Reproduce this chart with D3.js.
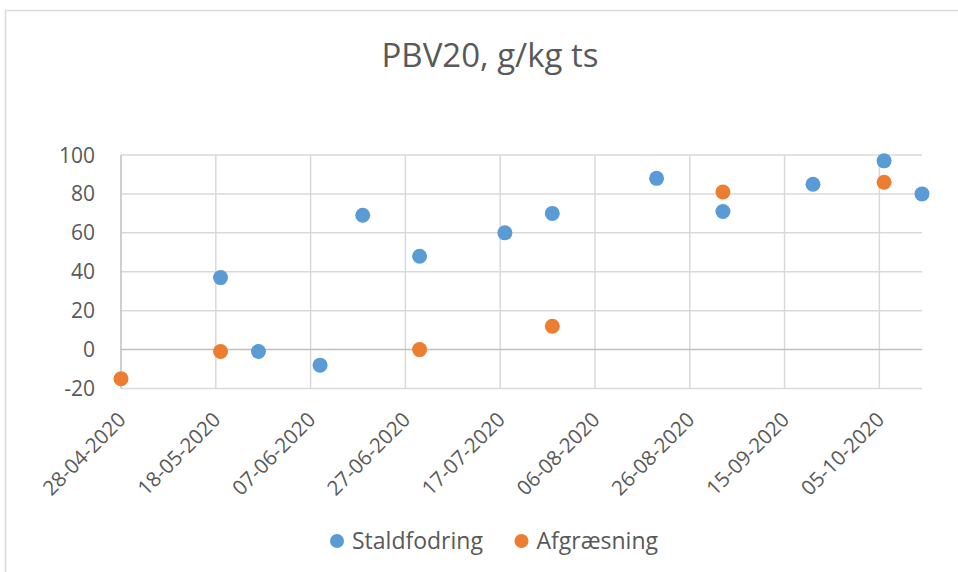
<!DOCTYPE html>
<html><head><meta charset="utf-8">
<script src="https://cdn.jsdelivr.net/npm/d3@7"></script>
<style>
body{margin:0;background:#fff;}
text{font-family:"Open Sans",sans-serif;fill:#595959;}
</style></head>
<body><svg id="c" width="958" height="572"></svg>
<script>
const title = "PBV20, g/kg ts";
const seriesNames = ["Staldfodring", "Afgræsning"];
const seriesColors = ["#5B9BD5", "#ED7D31"];
const staldDates = ["19-05-2020","27-05-2020","09-06-2020","18-06-2020","30-06-2020","18-07-2020","28-07-2020","19-08-2020","02-09-2020","21-09-2020","06-10-2020","14-10-2020"];
const staldValues = [37, -1, -8, 69, 48, 60, 70, 88, 71, 85, 97, 80];
const afgrDates = ["28-04-2020","19-05-2020","30-06-2020","28-07-2020","02-09-2020","06-10-2020"];
const afgrValues = [-15, -1, 0, 12, 81, 86];
const xTickLabels = ["28-04-2020","18-05-2020","07-06-2020","27-06-2020","17-07-2020","06-08-2020","26-08-2020","15-09-2020","05-10-2020"];
const xDomainLabels = ["28-04-2020","14-10-2020"];
const yTicks = [-20, 0, 20, 40, 60, 80, 100];

const parse = d3.utcParse("%d-%m-%Y");
const svg = d3.select("#c");

svg.append("rect").attr("x",5.5).attr("y",10.5).attr("width",1000).attr("height",1000)
  .attr("fill","none").attr("stroke","#D9D9D9").attr("stroke-width",1.5);

const x = d3.scaleUtc().domain(xDomainLabels.map(parse)).range([121, 922]);
const y = d3.scaleLinear().domain([-20, 100]).range([388.5, 155]);

svg.append("g").selectAll("line").data(yTicks.filter(v => v !== 0)).join("line")
  .attr("x1", 121).attr("x2", 922).attr("y1", d => y(d)).attr("y2", d => y(d))
  .attr("stroke", "#D9D9D9").attr("stroke-width", 1.5);
svg.append("g").selectAll("line").data(xTickLabels.slice(1)).join("line")
  .attr("x1", d => x(parse(d))).attr("x2", d => x(parse(d))).attr("y1", 155).attr("y2", 388.5)
  .attr("stroke", "#D9D9D9").attr("stroke-width", 1.5);
svg.append("line").attr("x1",121).attr("x2",922).attr("y1",y(0)).attr("y2",y(0))
  .attr("stroke","#BFBFBF").attr("stroke-width",1.5);
svg.append("line").attr("x1",121).attr("x2",121).attr("y1",155).attr("y2",388.5)
  .attr("stroke","#BFBFBF").attr("stroke-width",1.5);

svg.append("g").selectAll("text").data(yTicks).join("text")
  .attr("x", 95).attr("y", d => y(d)).attr("dy","0.36em")
  .attr("text-anchor","end").attr("font-size", 21).text(d => d);

svg.append("g").selectAll("text").data(xTickLabels).join("text")
  .attr("transform", d => `translate(${x(parse(d)) + 1},${416}) rotate(-45)`)
  .attr("dy","0.35em").attr("text-anchor","end").attr("font-size", 20.5).text(d => d);

svg.append("text").attr("x", 490).attr("y", 67).attr("text-anchor","middle")
  .attr("font-size", 33).text(title);

const series = [
  staldDates.map((d,i) => ({d: parse(d), v: staldValues[i]})),
  afgrDates.map((d,i) => ({d: parse(d), v: afgrValues[i]}))
];
series.forEach((s, k) => {
  svg.append("g").selectAll("circle").data(s).join("circle")
    .attr("cx", p => x(p.d)).attr("cy", p => y(p.v)).attr("r", 7.5)
    .attr("fill", seriesColors[k]);
});

const legendX = [337, 521.5];
seriesNames.forEach((n, k) => {
  svg.append("circle").attr("cx", legendX[k]).attr("cy", 541).attr("r", 7).attr("fill", seriesColors[k]);
  svg.append("text").attr("x", legendX[k] + 15).attr("y", 541).attr("dy","0.36em")
    .attr("font-size", 23).text(n);
});
</script></body></html>
